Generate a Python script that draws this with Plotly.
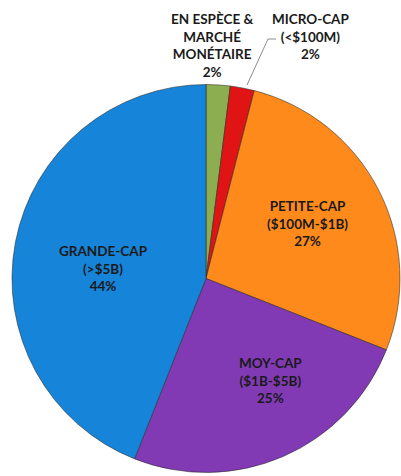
import plotly.graph_objects as go

labels = ["EN ESPÈCE &<br>MARCHÉ<br>MONÉTAIRE", "MICRO-CAP<br>(<$100M)", "PETITE-CAP<br>($100M-$1B)",
          "MOY-CAP<br>($1B-$5B)", "GRANDE-CAP<br>(>$5B)"]
values = [2, 2, 27, 25, 44]
colors = ["#8cae50", "#e01414", "#ff8a1c", "#813ab4", "#1684d8"]

W, H = 401, 476
# label centre positions (pixels) for annotations
label_pos = [(212, 45), (310, 37), (307, 223), (270, 380), (103, 268)]

fig = go.Figure(go.Pie(
    labels=labels, values=values, sort=False, direction="clockwise", rotation=0,
    marker=dict(colors=colors, line=dict(color="rgba(40,40,40,0.55)", width=1)),
    textinfo="none", hoverinfo="label+percent", showlegend=False,
    domain=dict(x=[12/W, 400/W], y=[1-473/H, 1-84/H]),
))

for lab, v, (px, py) in zip(labels, values, label_pos):
    fig.add_annotation(x=px/W, y=1-py/H, xref="paper", yref="paper",
                       text=f"<b>{lab}<br>{v}%</b>", showarrow=False,
                       font=dict(family="Lato", size=13.5, color="#1a1a1a"),
                       align="center", xanchor="center", yanchor="middle")

# leader line for micro-cap
fig.add_shape(type="path", xref="paper", yref="paper",
              path=f"M {247/W} {1-85/H} L {268/W} {1-39/H} L {276/W} {1-39/H}",
              line=dict(color="#8c8c8c", width=1))

fig.update_layout(width=W, height=H, margin=dict(l=0, r=0, t=0, b=0),
                  paper_bgcolor="white", plot_bgcolor="white")
fig.write_html("out.html", config={"displayModeBar": False},
               post_script="document.body.style.margin='0';")
